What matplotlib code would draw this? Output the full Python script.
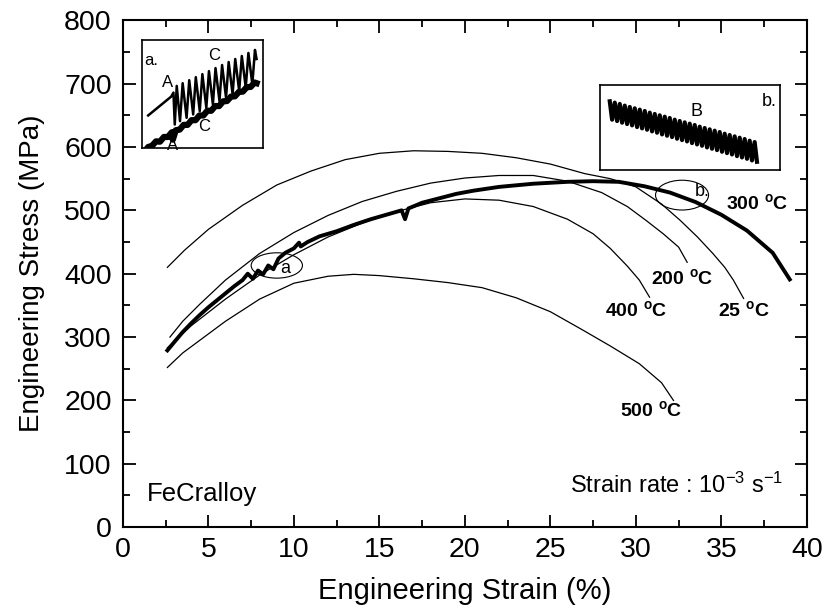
import numpy as np
import matplotlib
matplotlib.use("Agg")
import matplotlib.pyplot as plt
from matplotlib.patches import Ellipse
from matplotlib.ticker import MultipleLocator

plt.rcParams['font.family'] = ['Liberation Sans', 'DejaVu Sans']
plt.rcParams['mathtext.fontset'] = 'custom'
plt.rcParams['mathtext.rm'] = 'Liberation Sans'
plt.rcParams['mathtext.it'] = 'Liberation Sans'
plt.rcParams['mathtext.bf'] = 'Liberation Sans:bold'

# ---------------- data ----------------
strain_25 = [2.6, 3.6, 5, 7, 9, 11, 13, 15, 17, 19, 21, 23, 25, 27, 28.5, 30, 31.5, 32.6, 33.6, 34.5, 35.2, 35.7, 36.3]
stress_25 = [410, 437, 470, 508, 540, 562, 580, 590, 594, 593, 590, 583, 573, 558, 550, 537, 510, 484, 458, 432, 410, 390, 361]

strain_200 = [2.75, 3.5, 4.5, 6, 8, 10, 12, 14, 16, 18, 20, 22, 24, 26, 28, 29.5, 30.6, 31.6, 32.5, 33.0]
stress_200 = [300, 325, 352, 390, 432, 465, 492, 514, 530, 543, 551, 555, 555, 546, 528, 506, 484, 463, 442, 418]

strain_300 = [2.6, 3.0, 3.5, 4.0, 4.5, 5.0, 5.5, 6.0, 6.5, 7.0, 7.3, 7.6, 7.9, 8.2, 8.5, 8.8, 9.1, 9.5, 10.0, 10.3, 10.4, 10.8, 11.5,
              12.5, 13.5, 14.5, 16.3, 16.5, 16.7, 17.5, 18.5, 19.5, 20.5, 22, 24, 26, 27.5, 29, 30.5, 32, 33.5, 35, 36.5, 38, 39]
stress_300 = [279, 292, 308, 322, 335, 347, 358, 369, 380, 390, 400, 392, 405, 399, 413, 407, 424, 433, 440, 449, 443, 450, 459,
              467, 477, 486, 500, 486, 503, 512, 519, 526, 531, 537, 542, 545, 546, 545, 538, 528, 513, 493, 468, 433, 391]

strain_400 = [2.6, 4, 6, 8, 10, 12, 14, 16, 18, 20, 22, 24, 26, 27.5, 28.5, 29.5, 30.2, 30.8]
stress_400 = [283, 318, 360, 398, 430, 458, 480, 498, 512, 518, 516, 506, 486, 463, 440, 412, 390, 363]

strain_500 = [2.6, 3.5, 4.5, 6, 8, 10, 12, 13.5, 15, 17, 19, 21, 23, 25, 26.9, 28.5, 30.2, 31.5, 32.2]
stress_500 = [252, 275, 295, 325, 360, 385, 396, 399, 397, 392, 386, 378, 362, 340, 311, 286, 258, 228, 200]

temp_labels = ['300 $^{\\mathbf{o}}$C', '200 $^{\\mathbf{o}}$C', '400 $^{\\mathbf{o}}$C', '25 $^{\\mathbf{o}}$C', '500 $^{\\mathbf{o}}$C']
temp_label_x = [37.1, 32.7, 30.0, 36.3, 30.9]
temp_label_y = [511, 393, 342, 342, 185]

x_ticks = [0, 5, 10, 15, 20, 25, 30, 35, 40]
y_ticks = [0, 100, 200, 300, 400, 500, 600, 700, 800]

# inset a (serration detail), in inset-local units
insA_up_x = [25, 60, 95, 102, 106, 112, 122, 130, 142, 150, 162, 170, 182, 190, 202, 210, 222, 230, 242, 250,
             262, 270, 282, 290, 302, 310, 322, 330, 342, 350, 355]
insA_up_y = [228, 200, 172, 160, 255, 140, 245, 132, 235, 123, 225, 114, 215, 105, 205, 96, 195, 87, 185, 78,
             175, 69, 165, 60, 155, 51, 145, 42, 135, 33, 60]
insA_lo_x = [15, 25, 37, 49, 61, 73, 85, 97, 100, 109, 121, 133, 145, 157, 169, 181, 193, 205, 217, 229, 241,
             253, 265, 277, 289, 301, 313, 325, 337, 349, 355]
insA_lo_y = [335, 322, 318, 305, 306, 292, 292, 278, 300, 272, 270, 256, 256, 242, 242, 228, 228, 214, 214, 200,
             200, 186, 185, 172, 171, 158, 157, 144, 143, 130, 132]

# inset b (serration detail), in inset-local units
insB_peak_x = [45, 60, 75, 90, 105, 120, 135, 150, 165, 180, 195, 210, 225, 240, 255, 270, 285, 300, 315, 330,
               345, 360, 375, 390, 405, 420, 435, 450, 465, 480]
insB_peak_y = [65, 69, 73, 78, 82, 86, 90, 94, 99, 103, 107, 111, 115, 120, 124, 128, 132, 136, 141, 145,
               149, 153, 157, 162, 166, 170, 174, 178, 183, 187]
insB_trough_x = [52, 67, 82, 97, 112, 127, 142, 157, 172, 187, 202, 217, 232, 247, 262, 277, 292, 307, 322, 337,
                 352, 367, 382, 397, 412, 427, 442, 457, 472, 487]
insB_trough_y = [120, 124, 129, 133, 137, 142, 146, 150, 155, 159, 164, 168, 172, 177, 181, 185, 190, 194, 198, 203,
                 207, 211, 216, 220, 224, 229, 233, 237, 242, 246]

# ---------------- figure ----------------
fig = plt.figure(figsize=(8.25, 6.13), dpi=100)
ax = fig.add_axes([0.149, 0.140, 0.829, 0.827])

ax.plot(strain_25, stress_25, color='black', lw=0.9)
ax.plot(strain_200, stress_200, color='black', lw=0.9)
ax.plot(strain_400, stress_400, color='black', lw=0.9)
ax.plot(strain_500, stress_500, color='black', lw=0.9)
ax.plot(strain_300, stress_300, color='black', lw=2.8)

for lab, lx, ly in zip(temp_labels, temp_label_x, temp_label_y):
    ax.text(lx, ly, lab, fontsize=14, fontweight='bold', ha='center', va='center')

# ellipse markers a and b
ax.add_patch(Ellipse((9.0, 413), 3.0, 40, angle=0, fill=False, lw=0.8, color='black'))
ax.text(9.5, 408, 'a', fontsize=13, ha='center', va='center')
ax.add_patch(Ellipse((32.7, 524), 3.1, 47, angle=0, fill=False, lw=0.8, color='black'))
ax.text(33.9, 530, 'b.', fontsize=13, ha='center', va='center')

ax.text(1.4, 52, 'FeCralloy', fontsize=18.5, ha='left', va='center')
ax.text(38.6, 66, 'Strain rate : 10$^{-3}$ s$^{-1}$', fontsize=17, ha='right', va='center')

ax.set_xlim(0, 40)
ax.set_ylim(0, 800)
ax.set_xticks(x_ticks)
ax.set_yticks(y_ticks)
ax.xaxis.set_minor_locator(MultipleLocator(2.5))
ax.yaxis.set_minor_locator(MultipleLocator(50))
ax.tick_params(which='both', direction='in', top=True, right=True, width=1.3, labelsize=20.5)
ax.tick_params(which='major', length=9)
ax.tick_params(which='minor', length=5)
ax.tick_params(axis='x', pad=7)
ax.tick_params(axis='y', pad=8)
for s in ax.spines.values():
    s.set_linewidth(1.5)
ax.set_xlabel('Engineering Strain (%)', fontsize=21, labelpad=10)
ax.set_ylabel('Engineering Stress (MPa)', fontsize=20, labelpad=14)

# inset a
axa = fig.add_axes([0.172, 0.759, 0.147, 0.176])
axa.plot(insA_up_x, insA_up_y, color='black', lw=1.8)
axa.plot(insA_lo_x, insA_lo_y, color='black', lw=4.5)
axa.set_xlim(6, 375)
axa.set_ylim(324, 3)
axa.set_xticks([]); axa.set_yticks([])
for s in axa.spines.values():
    s.set_linewidth(1.2)
axa.text(35, 65, 'a.', fontsize=12, ha='center', va='center')
axa.text(85, 130, 'A', fontsize=12, ha='center', va='center')
axa.text(225, 50, 'C', fontsize=12, ha='center', va='center')
axa.text(195, 262, 'C', fontsize=12, ha='center', va='center')
axa.text(100, 318, 'A', fontsize=12, ha='center', va='center')

# inset b
axb = fig.add_axes([0.727, 0.723, 0.218, 0.139])
bx = np.ravel(np.column_stack([insB_peak_x, insB_trough_x]))
by = np.ravel(np.column_stack([insB_peak_y, insB_trough_y]))
axb.plot(bx, by, color='black', lw=3.0)
axb.set_xlim(15, 555)
axb.set_ylim(270, 15)
axb.set_xticks([]); axb.set_yticks([])
for s in axb.spines.values():
    s.set_linewidth(1.2)
axb.text(305, 95, 'B', fontsize=13, ha='center', va='center')
axb.text(525, 65, 'b.', fontsize=13, ha='center', va='center')

fig.savefig('out.png', dpi=100)
